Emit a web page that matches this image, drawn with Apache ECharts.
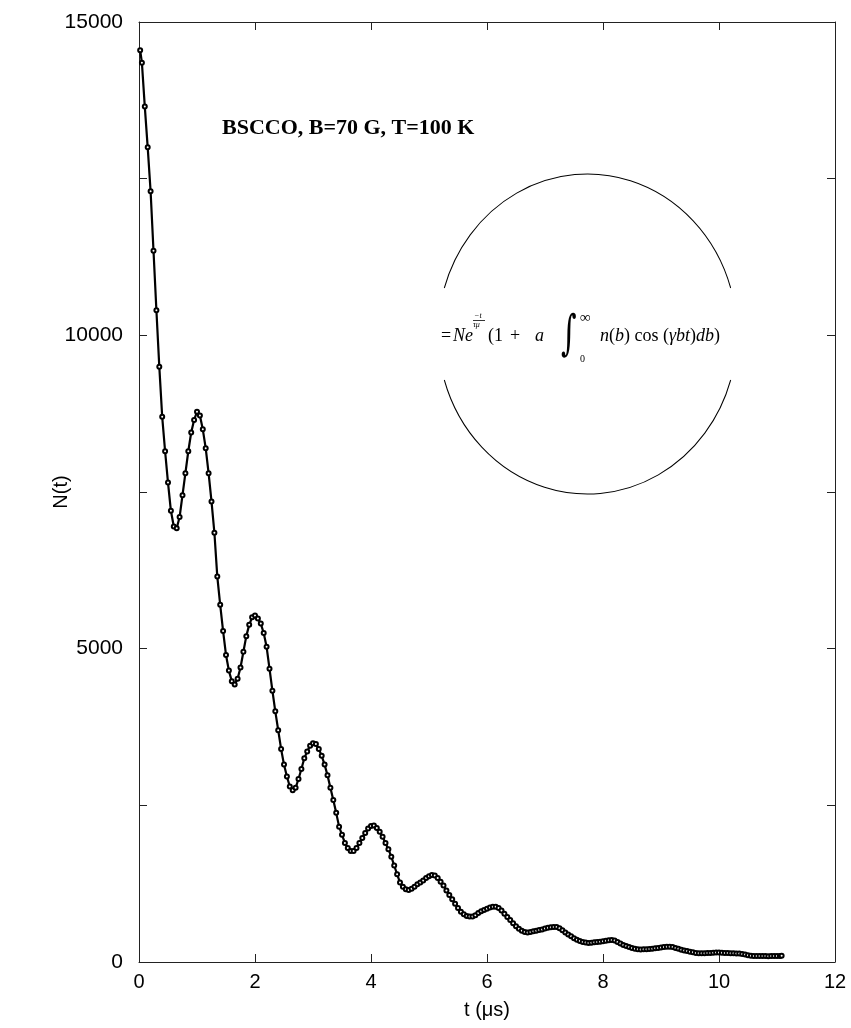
<!DOCTYPE html>
<html>
<head>
<meta charset="utf-8">
<script src="https://cdn.jsdelivr.net/npm/echarts@6/dist/echarts.min.js"></script>
<style>
  html, body { margin: 0; padding: 0; background: #fff; }
  #chart { width: 851px; height: 1028px; }
</style>
</head>
<body>
<div id="chart"></div>
<script>
// ---- data ----
var tValues = [
  0.02, 0.05, 0.10, 0.15, 0.20, 0.25, 0.30, 0.35, 0.40, 0.45,
  0.50, 0.55, 0.60, 0.65, 0.70, 0.75, 0.80, 0.85, 0.90, 0.95,
  1.00, 1.05, 1.10, 1.15, 1.20, 1.25, 1.30, 1.35, 1.40, 1.45,
  1.50, 1.55, 1.60, 1.65, 1.70, 1.75, 1.80, 1.85, 1.90, 1.95,
  2.00, 2.05, 2.10, 2.15, 2.20, 2.25, 2.30, 2.35, 2.40, 2.45,
  2.50, 2.55, 2.60, 2.65, 2.70, 2.75, 2.80, 2.85, 2.90, 2.95,
  3.00, 3.05, 3.10, 3.15, 3.20, 3.25, 3.30, 3.35, 3.40, 3.45,
  3.50, 3.55, 3.60, 3.65, 3.70, 3.75, 3.80, 3.85, 3.90, 3.95,
  4.00, 4.05, 4.10, 4.15, 4.20, 4.25, 4.30, 4.35, 4.40, 4.45,
  4.50, 4.55, 4.60, 4.65, 4.70, 4.75, 4.80, 4.85, 4.90, 4.95,
  5.00, 5.05, 5.10, 5.15, 5.20, 5.25, 5.30, 5.35, 5.40, 5.45,
  5.50, 5.55, 5.60, 5.65, 5.70, 5.75, 5.80, 5.85, 5.90, 5.95,
  6.00, 6.05, 6.10, 6.15, 6.20, 6.25, 6.30, 6.35, 6.40, 6.45,
  6.50, 6.55, 6.60, 6.65, 6.70, 6.75, 6.80, 6.85, 6.90, 6.95,
  7.00, 7.05, 7.10, 7.15, 7.20, 7.25, 7.30, 7.35, 7.40, 7.45,
  7.50, 7.55, 7.60, 7.65, 7.70, 7.75, 7.80, 7.85, 7.90, 7.95,
  8.00, 8.05, 8.10, 8.15, 8.20, 8.25, 8.30, 8.35, 8.40, 8.45,
  8.50, 8.55, 8.60, 8.65, 8.70, 8.75, 8.80, 8.85, 8.90, 8.95,
  9.00, 9.05, 9.10, 9.15, 9.20, 9.25, 9.30, 9.35, 9.40, 9.45,
  9.50, 9.55, 9.60, 9.65, 9.70, 9.75, 9.80, 9.85, 9.90, 9.95,
  10.00, 10.05, 10.10, 10.15, 10.20, 10.25, 10.30, 10.35, 10.40, 10.45,
  10.50, 10.55, 10.60, 10.65, 10.70, 10.75, 10.80, 10.85, 10.90, 10.95,
  11.00, 11.05, 11.08
];
var nValues = [
  14550, 14350, 13650, 13000, 12300, 11350, 10400, 9500, 8700, 8150,
  7650, 7200, 6950, 6920, 7100, 7450, 7800, 8150, 8450, 8650,
  8780, 8720, 8500, 8200, 7800, 7350, 6850, 6150, 5700, 5280,
  4900, 4650, 4480, 4430, 4520, 4700, 4950, 5200, 5380, 5500,
  5530, 5480, 5400, 5250, 5030, 4680, 4330, 4000, 3700, 3400,
  3150, 2960, 2800, 2740, 2780, 2920, 3080, 3250, 3360, 3450,
  3490, 3480, 3400, 3290, 3150, 2980, 2780, 2585, 2380, 2160,
  2030, 1900, 1820, 1770, 1770, 1820, 1900, 1980, 2060, 2130,
  2170, 2180, 2140, 2080, 2000, 1900, 1800, 1680, 1540, 1400,
  1270, 1200, 1160, 1150, 1170, 1200, 1240, 1270, 1300, 1340,
  1370, 1390, 1380, 1340, 1280, 1220, 1140, 1070, 1000, 930,
  860, 800, 760, 735, 725, 725, 745, 780, 810, 830,
  850, 870, 880, 880, 860, 820, 770, 720, 670, 620,
  570, 530, 500, 480, 470, 480, 490, 500, 510, 520,
  535, 545, 555, 560, 560, 540, 505, 470, 440, 410,
  380, 355, 335, 320, 310, 305, 308, 315, 320, 325,
  330, 340, 348, 350, 345, 320, 295, 270, 255, 240,
  225, 212, 205, 200, 202, 205, 208, 212, 218, 225,
  232, 238, 242, 244, 238, 225, 210, 197, 185, 175,
  165, 155, 145, 140, 138, 140, 142, 145, 148, 150,
  150, 148, 145, 143, 140, 138, 137, 135, 128, 118,
  108, 100, 96, 94, 95, 96, 94, 92, 94, 96,
  95, 97, 98
];
var xTickLabels = ['0', '2', '4', '6', '8', '10', '12'];
var yTickLabels = ['0', '5000', '10000', '15000'];
var titleText = 'BSCCO, B=70 G, T=100 K';
var xName = 't (\u03bcs)';
var yName = 'N(t)';

// ---- chart ----
var chart = echarts.init(document.getElementById('chart'), null, { renderer: 'canvas' });
var seriesData = tValues.map(function (t, i) { return [t, nValues[i]]; });

var AX = '#222';
var FONT = '"Liberation Sans", Arial, Helvetica, sans-serif';
var SERIF = '"Liberation Serif", "Times New Roman", serif';

function baseX(pos, show) {
  return {
    type: 'value', position: pos, min: 0, max: 12, interval: 2,
    axisLine: { show: true, onZero: false, lineStyle: { color: AX, width: 1 } },
    axisTick: { show: true, inside: true, length: 8, lineStyle: { color: AX } },
    axisLabel: show ? {
      show: true, color: '#000', fontSize: 20, fontFamily: FONT, margin: 10,
      formatter: function (v) { var s = String(v); return xTickLabels.indexOf(s) >= 0 ? s : ''; }
    } : { show: false },
    splitLine: { show: false }
  };
}
function baseY(pos, show) {
  return {
    type: 'value', position: pos, min: 0, max: 15000, interval: 2500,
    axisLine: { show: true, onZero: false, lineStyle: { color: AX, width: 1 } },
    axisTick: { show: true, inside: true, length: 8, lineStyle: { color: AX } },
    axisLabel: show ? {
      show: true, color: '#000', fontSize: 21, fontFamily: FONT, margin: 16,
      formatter: function (v) { var s = String(v); return yTickLabels.indexOf(s) >= 0 ? s : ''; }
    } : { show: false },
    splitLine: { show: false }
  };
}

var xb = baseX('bottom', true);
xb.name = xName; xb.nameLocation = 'middle'; xb.nameGap = 38;
xb.nameTextStyle = { color: '#000', fontSize: 20, fontFamily: FONT };
var xt = baseX('top', false);
var yl = baseY('left', true);
yl.name = yName; yl.nameLocation = 'middle'; yl.nameGap = 68; yl.nameMoveOverlap = false;
yl.nameTextStyle = { color: '#000', fontSize: 20, fontFamily: FONT };
var yr = baseY('right', false);

// ellipse annotation geometry
var ecx = 587.5, ecy = 334, erx = 149.5, ery = 160, gap = 0.2917;
var fy = 336;

function txt(x, y, s, size, italic, family) {
  return { type: 'text', x: x, y: y, style: {
    text: s, fill: '#000', fontSize: size, fontStyle: italic ? 'italic' : 'normal',
    fontFamily: family || SERIF, verticalAlign: 'middle', align: 'left'
  } };
}

var graphics = [
  { type: 'text', left: 222, top: 117, style: { text: titleText, fill: '#000', fontSize: 22, fontWeight: 'bold', fontFamily: SERIF } },
  { type: 'arc', x: ecx, y: ecy, scaleY: ery / erx,
    shape: { cx: 0, cy: 0, r: erx, startAngle: Math.PI + gap, endAngle: 2 * Math.PI - gap, clockwise: true },
    style: { stroke: '#000', lineWidth: 1, fill: null } },
  { type: 'arc', x: ecx, y: ecy, scaleY: ery / erx,
    shape: { cx: 0, cy: 0, r: erx, startAngle: gap, endAngle: Math.PI - gap, clockwise: true },
    style: { stroke: '#000', lineWidth: 1, fill: null } },
  txt(441, fy, '=', 18, false),
  txt(453, fy, 'Ne', 18, true),
  txt(474, 316, '\u2212t', 8, true),
  { type: 'line', shape: { x1: 473, y1: 320.5, x2: 485, y2: 320.5 }, style: { stroke: '#000', lineWidth: 0.8 } },
  txt(473, 325, '\u03c4\u03bc', 8, true),
  txt(488, fy, '(1', 18, false),
  txt(510, fy, '+', 18, false),
  txt(535, fy, 'a', 18, true),
  { type: 'text', x: 561, y: 337, scaleY: 1.6, style: {
    text: '\u222b', fill: '#000', fontSize: 30, fontStyle: 'italic', fontFamily: '"DejaVu Serif", serif',
    verticalAlign: 'middle', align: 'left' } },
  txt(580, 318, '\u221e', 15, false),
  txt(580, 359, '0', 10, false),
  { type: 'text', x: 600, y: fy, style: {
    text: '{i|n}{r|(}{i|b}{r|) cos (}{i|\u03b3bt}{r|)}{i|db}{r|)}',
    verticalAlign: 'middle', align: 'left',
    rich: {
      i: { fontSize: 18, fontStyle: 'italic', fontFamily: SERIF, fill: '#000' },
      r: { fontSize: 18, fontFamily: SERIF, fill: '#000' }
    }
  } }
];

var option = {
  animation: false,
  backgroundColor: '#fff',
  grid: { left: 139, right: 16, top: 22, bottom: 66, containLabel: false },
  xAxis: [xb, xt],
  yAxis: [yl, yr],
  series: [{
    type: 'line',
    data: seriesData,
    xAxisIndex: 0, yAxisIndex: 0,
    showSymbol: true,
    symbol: 'emptyCircle',
    symbolSize: 4,
    itemStyle: { color: '#000', borderColor: '#000', borderWidth: 1.2 },
    lineStyle: { color: '#000', width: 2.2 },
    smooth: false
  }],
  graphic: graphics
};
chart.setOption(option);
</script>
</body>
</html>
